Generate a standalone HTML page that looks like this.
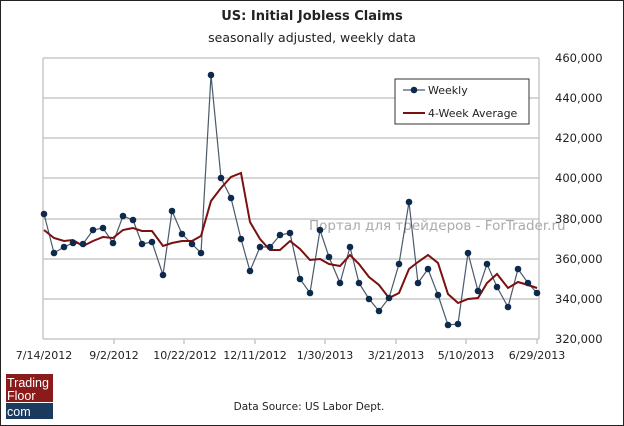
<!DOCTYPE html>
<html><head><meta charset="utf-8"><style>
body{margin:0;background:#fff}
#c{position:relative;width:622px;height:424px;border:1px solid #222;font-family:"DejaVu Sans","Liberation Sans",sans-serif;overflow:hidden}
.t{position:absolute;white-space:nowrap}
</style></head><body><div id="c">
<div class="t" style="left:0;width:622px;text-align:center;top:8px;font-size:13px;font-weight:bold;color:#222">US: Initial Jobless Claims</div>
<div class="t" style="left:0;width:622px;text-align:center;top:29px;font-size:12.5px;color:#222">seasonally adjusted, weekly data</div>
<svg width="622" height="424" style="position:absolute;left:0;top:0" font-family="DejaVu Sans, Liberation Sans, sans-serif">
<g stroke="#c8c8c8" stroke-width="1.5">
<line x1="42" y1="57" x2="538" y2="57"/><line x1="42" y1="97" x2="538" y2="97"/><line x1="42" y1="137" x2="538" y2="137"/><line x1="42" y1="177" x2="538" y2="177"/><line x1="42" y1="218" x2="538" y2="218"/><line x1="42" y1="258" x2="538" y2="258"/><line x1="42" y1="298" x2="538" y2="298"/>
<line x1="538" y1="57" x2="538" y2="338"/>
<line x1="42" y1="57" x2="42" y2="338"/><line x1="42" y1="338" x2="538" y2="338"/>
<line x1="113" y1="338" x2="113" y2="343"/><line x1="183" y1="338" x2="183" y2="343"/><line x1="254" y1="338" x2="254" y2="343"/><line x1="324" y1="338" x2="324" y2="343"/><line x1="395" y1="338" x2="395" y2="343"/><line x1="465" y1="338" x2="465" y2="343"/><line x1="536" y1="338" x2="536" y2="343"/>
</g>
<g font-size="11.5" fill="#222">
<text x="554" y="61">460,000</text><text x="554" y="101">440,000</text><text x="554" y="141">420,000</text><text x="554" y="181">400,000</text><text x="554" y="222">380,000</text><text x="554" y="262">360,000</text><text x="554" y="302">340,000</text><text x="554" y="342">320,000</text>
</g>
<g font-size="11" fill="#222" text-anchor="middle">
<text x="43" y="358">7/14/2012</text><text x="113" y="358">9/2/2012</text><text x="184" y="358">10/22/2012</text><text x="254" y="358">12/11/2012</text><text x="324" y="358">1/30/2013</text><text x="395" y="358">3/21/2013</text><text x="465" y="358">5/10/2013</text><text x="536" y="358">6/29/2013</text>
</g>
<text x="308" y="229" font-size="13.5" fill="#aaa">Портал для трейдеров - ForTrader.ru</text>
<polyline fill="none" stroke="#4a5a6a" stroke-width="1.2" points="43,213 53,252 63,246 72,242 82,243 92,229 102,227 112,242 122,215 132,219 141,243 151,241 162,274 171,210 181,233 191,243 200,252 210,74 220,177 230,197 240,238 249,270 259,246 269,246 279,234 289,232 299,278 309,292 319,229 328,256 339,282 349,246 358,282 368,298 378,310 388,297 398,263 408,201 417,282 427,268 437,294 447,324 457,323 467,252 477,290 486,263 496,286 507,306 517,268 527,282 536,292"/>
<polyline fill="none" stroke="#7a1010" stroke-width="2" points="43,229 53,237 63,240 72,239 82,245 92,240 102,236 112,237 122,229 132,227 141,230 151,230 162,245 171,242 181,240 191,240 200,235 210,200 220,187 230,176 240,172 249,221 259,238 269,249 279,249 289,240 299,248 309,259 319,258 328,263 339,265 349,254 358,263 368,276 378,284 388,297 398,292 408,268 417,261 427,254 437,262 447,293 457,302 467,298 477,297 486,282 496,273 507,287 517,281 527,284 536,287"/>
<g fill="#0d2a4d">
<circle cx="43" cy="213" r="3.3"/><circle cx="53" cy="252" r="3.3"/><circle cx="63" cy="246" r="3.3"/><circle cx="72" cy="242" r="3.3"/><circle cx="82" cy="243" r="3.3"/><circle cx="92" cy="229" r="3.3"/><circle cx="102" cy="227" r="3.3"/><circle cx="112" cy="242" r="3.3"/><circle cx="122" cy="215" r="3.3"/><circle cx="132" cy="219" r="3.3"/><circle cx="141" cy="243" r="3.3"/><circle cx="151" cy="241" r="3.3"/><circle cx="162" cy="274" r="3.3"/><circle cx="171" cy="210" r="3.3"/><circle cx="181" cy="233" r="3.3"/><circle cx="191" cy="243" r="3.3"/><circle cx="200" cy="252" r="3.3"/><circle cx="210" cy="74" r="3.3"/><circle cx="220" cy="177" r="3.3"/><circle cx="230" cy="197" r="3.3"/><circle cx="240" cy="238" r="3.3"/><circle cx="249" cy="270" r="3.3"/><circle cx="259" cy="246" r="3.3"/><circle cx="269" cy="246" r="3.3"/><circle cx="279" cy="234" r="3.3"/><circle cx="289" cy="232" r="3.3"/><circle cx="299" cy="278" r="3.3"/><circle cx="309" cy="292" r="3.3"/><circle cx="319" cy="229" r="3.3"/><circle cx="328" cy="256" r="3.3"/><circle cx="339" cy="282" r="3.3"/><circle cx="349" cy="246" r="3.3"/><circle cx="358" cy="282" r="3.3"/><circle cx="368" cy="298" r="3.3"/><circle cx="378" cy="310" r="3.3"/><circle cx="388" cy="297" r="3.3"/><circle cx="398" cy="263" r="3.3"/><circle cx="408" cy="201" r="3.3"/><circle cx="417" cy="282" r="3.3"/><circle cx="427" cy="268" r="3.3"/><circle cx="437" cy="294" r="3.3"/><circle cx="447" cy="324" r="3.3"/><circle cx="457" cy="323" r="3.3"/><circle cx="467" cy="252" r="3.3"/><circle cx="477" cy="290" r="3.3"/><circle cx="486" cy="263" r="3.3"/><circle cx="496" cy="286" r="3.3"/><circle cx="507" cy="306" r="3.3"/><circle cx="517" cy="268" r="3.3"/><circle cx="527" cy="282" r="3.3"/><circle cx="536" cy="292" r="3.3"/>
</g>
<rect x="394" y="78" width="134" height="45" fill="#fff" stroke="#333" stroke-width="1"/>
<line x1="402" y1="89" x2="424" y2="89" stroke="#4a5a6a" stroke-width="1.2"/><circle cx="413" cy="89" r="3.3" fill="#0d2a4d"/>
<text x="427" y="93" font-size="11" fill="#222">Weekly</text>
<line x1="402" y1="112" x2="424" y2="112" stroke="#7a1010" stroke-width="2"/>
<text x="427" y="116" font-size="11" fill="#222">4-Week Average</text>
<rect x="5" y="373" width="47" height="28" fill="#8b1a1a"/>
<rect x="5" y="402" width="47" height="16" fill="#1a3a5e"/>
<text x="6" y="386" font-size="12.5" fill="#fff" font-family="Liberation Sans, sans-serif">Trading</text>
<text x="6" y="399" font-size="12.5" fill="#fff" font-family="Liberation Sans, sans-serif">Floor</text>
<text x="6" y="415" font-size="12.5" fill="#fff" font-family="Liberation Sans, sans-serif">com</text>
<text x="308" y="409" font-size="10.5" fill="#222" text-anchor="middle">Data Source: US Labor Dept.</text>
</svg>
</div></body></html>
